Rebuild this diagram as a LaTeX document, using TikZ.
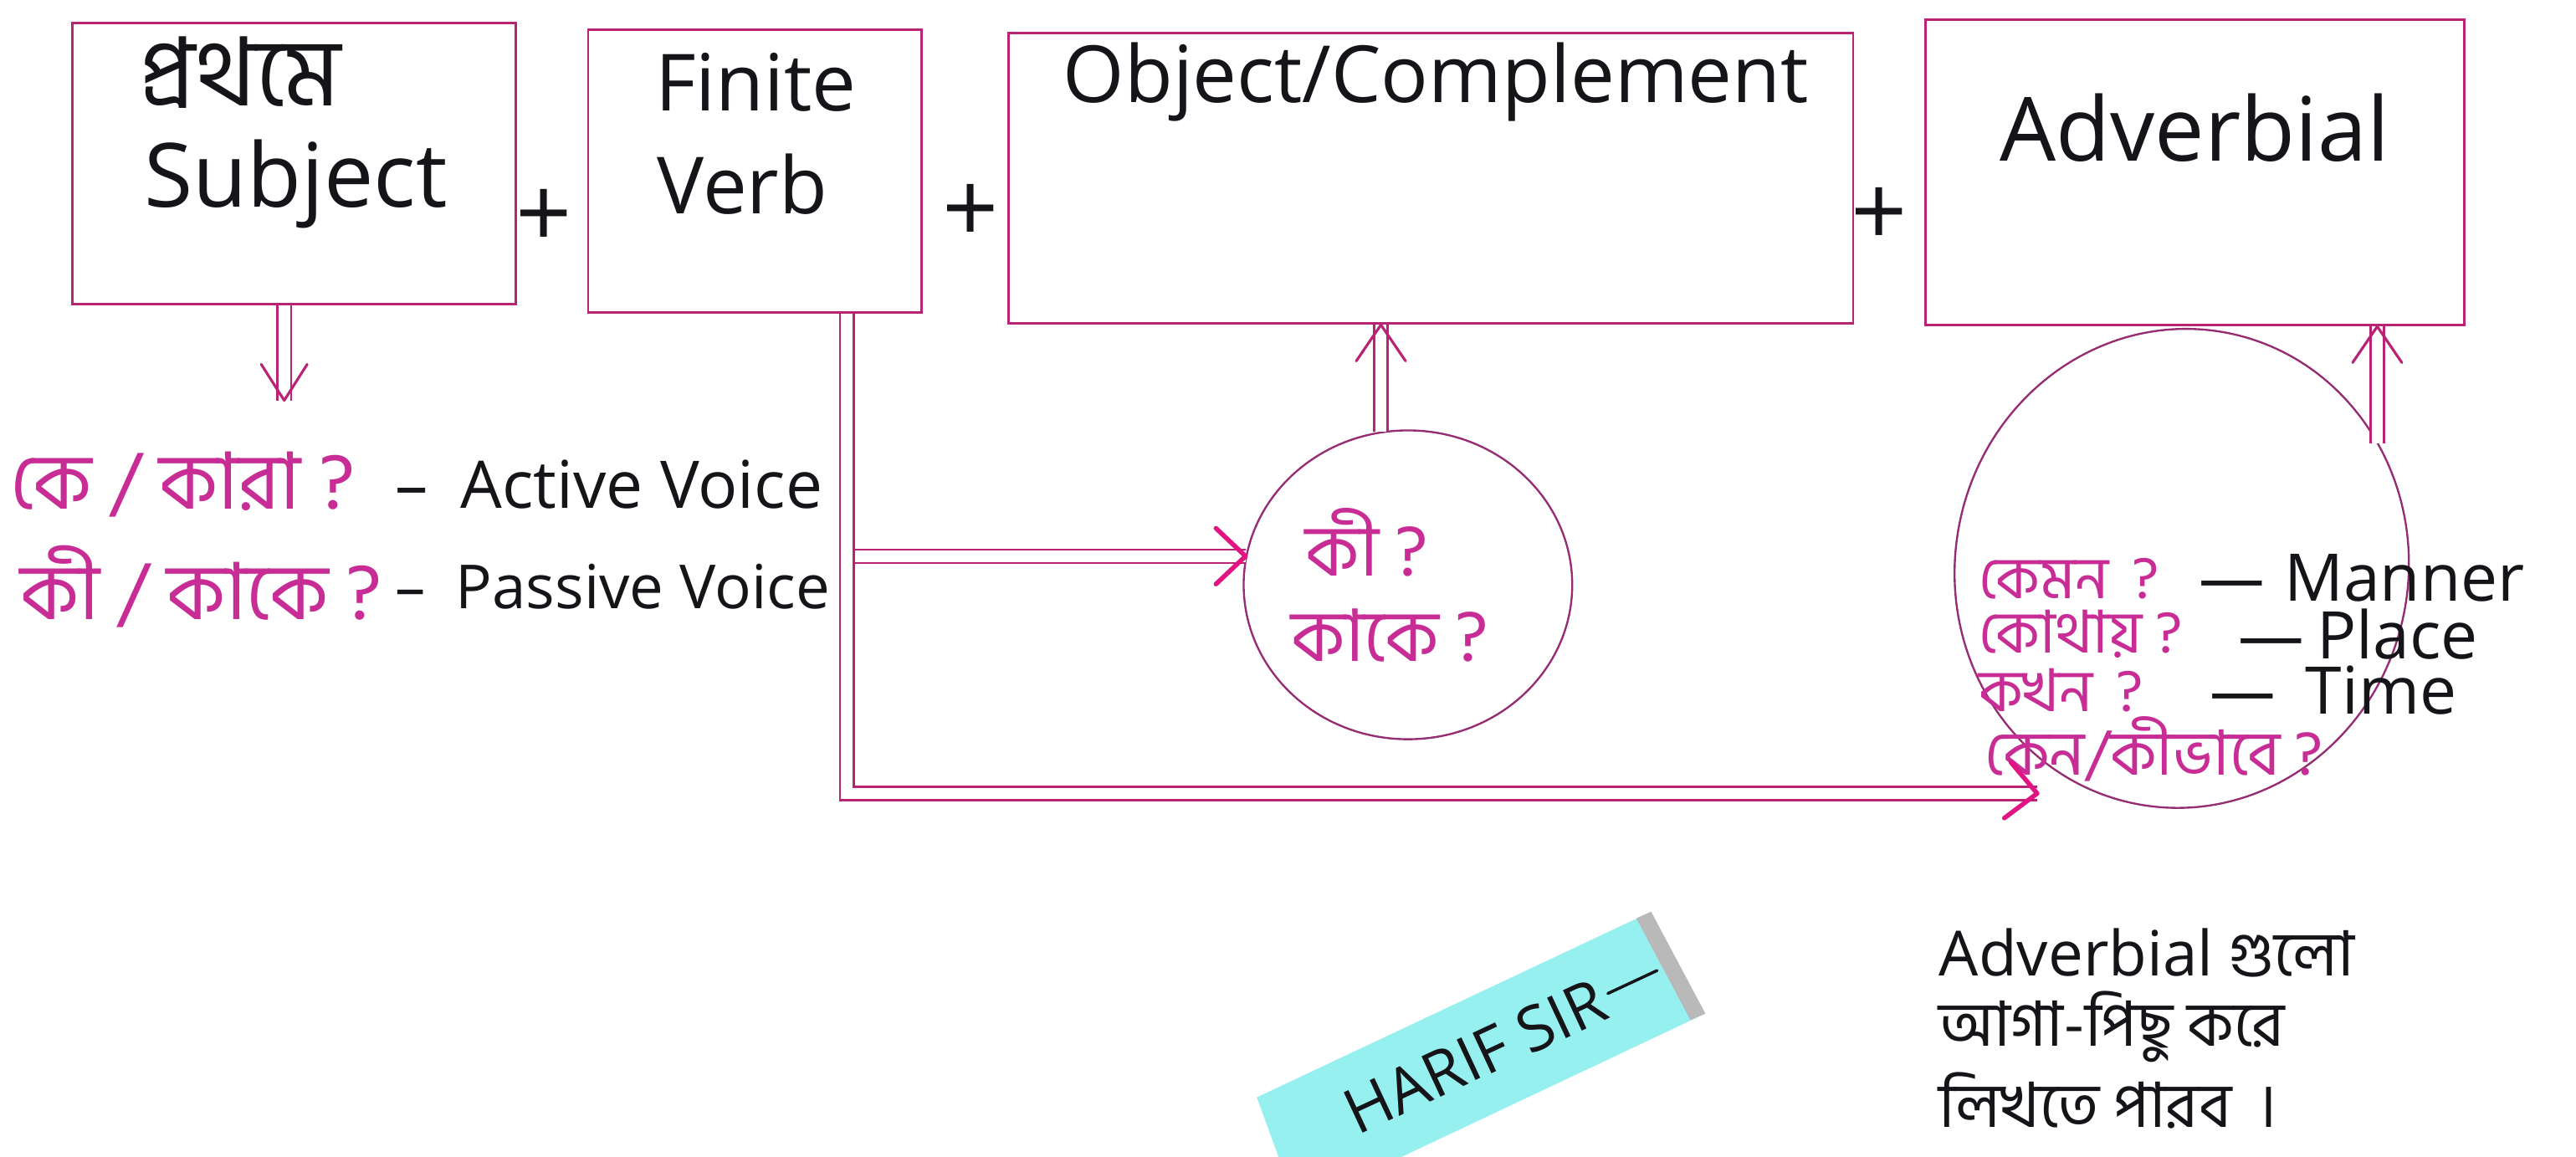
\documentclass[tikz,border=0pt]{standalone}
\usepackage{fontspec}
\setmainfont{Open Sans}
\newfontfamily\bn[Script=Bengali]{Hind Siliguri}
\usetikzlibrary{calc,shapes.geometric}
\definecolor{boxc}{RGB}{185,35,115}
\definecolor{headc}{RGB}{225,20,130}
\definecolor{bnc}{RGB}{200,45,150}
\definecolor{ringc}{RGB}{150,45,115}
\definecolor{notec}{RGB}{150,240,240}
\definecolor{notegrey}{RGB}{185,185,185}
\definecolor{ink}{RGB}{20,20,25}
\newcommand{\fsz}[1]{\fontsize{#1}{#1}\selectfont}
\newcommand{\bnm}[1]{{\bn\color{bnc}#1}}
\begin{document}
\begin{tikzpicture}[x=0.5pt,y=-0.5pt,
  boxn/.style={draw=boxc, line width=0.75pt, rectangle, inner sep=0pt},
  txt/.style={inner sep=0pt, text=ink},
  dbl/.style={draw=boxc, line width=0.6pt, double=white, double distance=3.5pt},
  head/.style={draw=headc, line width=1.4pt, line cap=round, line join=round},
  headd/.style={draw=boxc, line width=0.8pt, line cap=round, line join=round},
  ring/.style={ellipse, draw=ringc, line width=0.6pt, inner sep=0pt}]
\fill[white] (0,0) rectangle (1568,704);
\useasboundingbox (0,0) rectangle (1568,704);

% boxes
\node[boxn, minimum width=135pt, minimum height=85.5pt] (b1) at (179,99.5) {};
\node[boxn, minimum width=101.5pt, minimum height=86pt] (b2) at (459.5,104) {};
\node[boxn, minimum width=257pt, minimum height=88.5pt] (b3) at (871,108.5) {};
\node[boxn, minimum width=164pt, minimum height=93pt] (b4) at (1336,105) {};

% box texts
\node[txt, font=\fsz{29}] (t1a) at (146,44) {\bn প্রথমে};
\node[txt, font=\fsz{27}] (t1b) at (180,112) {Subject};
\node[txt, font=\fsz{24}] (t2a) at (460,50) {Finite};
\node[txt, font=\fsz{24}] (t2b) at (452,112) {Verb};
\node[txt, font=\fsz{24}] (t3) at (874,50) {Object/Complement};
\node[txt, font=\fsz{27}] (t4) at (1336,78) {Adverbial};

% plus signs
\node[txt, font=\fsz{30}] (p1) at (331,133) {+};
\node[txt, font=\fsz{30}] (p2) at (591,130) {+};
\node[txt, font=\fsz{30}] (p3) at (1144,132) {+};

% left questions
\node[txt, anchor=west, font=\fsz{24}] (q1b) at (6,295) {\bnm{কে / কারা ?}};
\node[txt, anchor=west, font=\fsz{20}] (q1e) at (240,295) {–\enspace Active Voice};
\node[txt, anchor=west, font=\fsz{24}] (q2b) at (12,357) {\bnm{কী / কাকে ?}};
\node[txt, anchor=west, font=\fsz{18.5}] (q2e) at (240,357) {–\enspace Passive Voice};

% small circle
\node[ring, minimum width=100pt, minimum height=94pt] (sc) at (857,356) {};
\node[txt, font=\fsz{22}] (k1) at (832,330) {\bnm{কী ?}};
\node[txt, font=\fsz{22}] (k2) at (846,387) {\bnm{কাকে ?}};

% big ellipse
\node[ring, minimum width=138pt, minimum height=146pt, rotate=-10] (big) at (1328,346) {};
\node[txt, anchor=west, font=\fsz{18}] (m1b) at (1204,352) {\bnm{কেমন\, ?}};
\node[txt, anchor=west, font=\fsz{20}] (m1e) at (1338,352) {—\hspace{6pt}Manner};
\node[txt, anchor=west, font=\fsz{18}] (m2b) at (1204,386) {\bnm{কোথায় ?}};
\node[txt, anchor=west, font=\fsz{20}] (m2e) at (1362,386) {—\hspace{4pt}Place};
\node[txt, anchor=west, font=\fsz{18}] (m3b) at (1204,420) {\bnm{কখন\, ?}};
\node[txt, anchor=west, font=\fsz{20}] (m3e) at (1345,420) {—\hspace{9pt}Time};
\node[txt, anchor=west, font=\fsz{19}] (m4) at (1208,456) {\bnm{কেন/কীভাবে ?}};

% bottom note
\node[txt, anchor=west, font=\fsz{19}] (n1) at (1180,580) {Adverbial {\bn গুলো}};
\node[txt, anchor=west, font=\fsz{19}] (n2) at (1180,625) {\bn আগা-পিছু করে};
\node[txt, anchor=west, font=\fsz{19}] (n3) at (1180,670) {\bn লিখতে পারব\hspace{8pt}।};

% connectors
\coordinate (d0) at ($(b1.south)+(-6,0)$);
\coordinate (d1) at ($(d0)+(0,58)$);
\draw[dbl] (d0) -- (d1);
\draw[headd] ($(d1)+(-14,-22)$) -- (d1) -- ($(d1)+(14,-22)$);

\coordinate (v0) at ($(b2.south)+(56,0)$);
\coordinate (e2) at (1240,483);
\draw[dbl] (v0) |- (sc.170);
\draw[dbl] (v0) |- (e2);
\draw[head] ($(sc.170)+(-18,-17)$) -- (sc.170) -- ($(sc.170)+(-18,17)$);
\draw[head] ($(e2)+(-16,-19)$) -- (e2) -- ($(e2)+(-20,15)$);

\coordinate (c0) at (sc.100);
\coordinate (c1) at (c0 |- b3.south);
\draw[dbl] (c0) -- (c1);
\draw[headd] ($(c1)+(-15,22)$) -- (c1) -- ($(c1)+(15,22)$);

\coordinate (u0) at (1447,270);
\coordinate (u1) at (u0 |- b4.south);
\draw[dbl] (u0) -- (u1);
\draw[headd] ($(u1)+(-15,22)$) -- (u1) -- ($(u1)+(15,22)$);

% sticky note
\begin{scope}
\clip (0,0) rectangle (1568,704);
\fill[notec] (765,668) -- (1005,555) -- (1038,617) -- (843,709) -- (780,709) -- cycle;
\fill[notegrey] (1005,555) -- (1038,617) -- (1029,621) -- (996,559) -- cycle;
\node[txt, font=\fsz{19}, rotate=25] (sig) at (898,643) {HARIF SIR};
\draw[ink, line width=0.9pt, line cap=round] ($(sig.east)+(3,-2)$) -- ++(30,-14);
\end{scope}
\end{tikzpicture}
\end{document}
